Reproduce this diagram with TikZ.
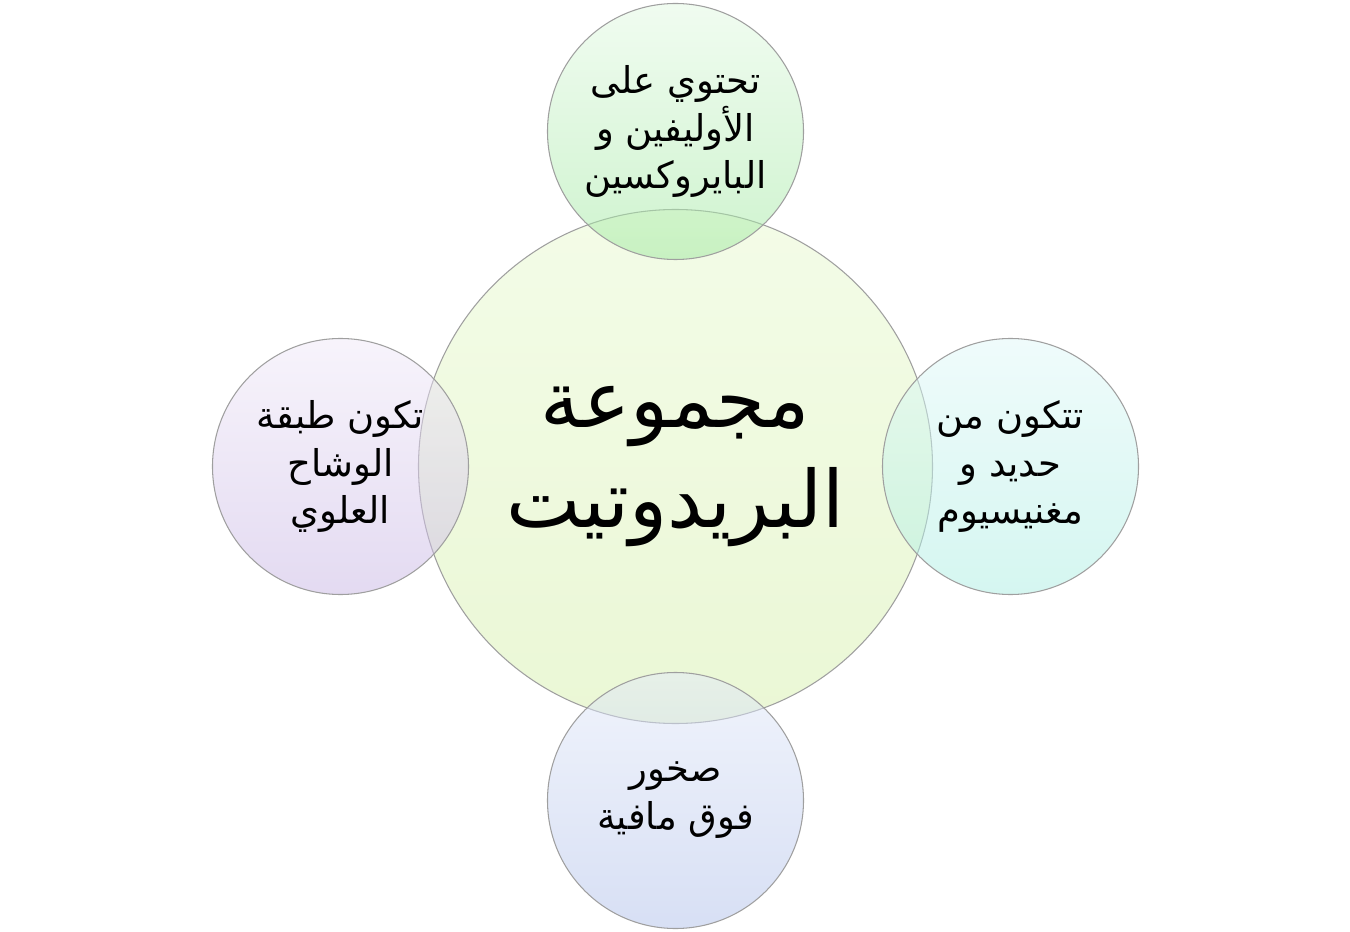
\documentclass[tikz,border=0pt]{standalone}
\usepackage{fontspec}
\newfontfamily\arabicfont[Script=Arabic]{DejaVu Sans}
\TeXXeTstate=1
\newcommand{\rl}[1]{\beginR#1\endR}
\definecolor{hubtop}{HTML}{E8F9D0}
\definecolor{hubbot}{HTML}{D6F0AC}
\definecolor{greentop}{HTML}{E2F9E2}
\definecolor{greenbot}{HTML}{9EE89E}
\definecolor{cyantop}{HTML}{E0F8F8}
\definecolor{cyanbot}{HTML}{ABEEE2}
\definecolor{bluetop}{HTML}{E2E9F9}
\definecolor{bluebot}{HTML}{B0C0EA}
\definecolor{violettop}{HTML}{F0E9F8}
\definecolor{violetbot}{HTML}{C8B6E4}
\tikzset{
  venn/.style={circle, draw=gray!75, line width=0.6pt, inner sep=0pt, align=center,
    fill opacity=0.5, text opacity=1, shade, top color=#1top, bottom color=#1bot},
  hub/.style={venn=hub, minimum size=10.28cm, font=\arabicfont\fontsize{45}{57}\selectfont},
  petal/.style={venn=#1, minimum size=5.12cm, font=\arabicfont\fontsize{21}{27.3}\selectfont}
}
\begin{document}
\begin{tikzpicture}
    \useasboundingbox (-13.51,-9.29) rectangle (13.49,9.33);
    \node[hub] (peridotite) at (0,0) {\rl{مجموعة}\\\rl{البريدوتيت}};
    \node[petal=green] (minerals) at (0,6.7) {\rl{تحتوي على}\\\rl{الأوليفين و}\\\rl{البايروكسين}};
    \node[petal=cyan] (elements) at (6.7,0) {\rl{تتكون من}\\\rl{حديد و}\\\rl{مغنيسيوم}};
    \node[petal=blue] (rocktype) at (0,-6.68) {\rl{صخور}\\\rl{فوق مافية}};
    \node[petal=violet] (mantle) at (-6.7,0) {\rl{تكون طبقة}\\\rl{الوشاح}\\\rl{العلوي}};
  \end{tikzpicture}
\end{document}
